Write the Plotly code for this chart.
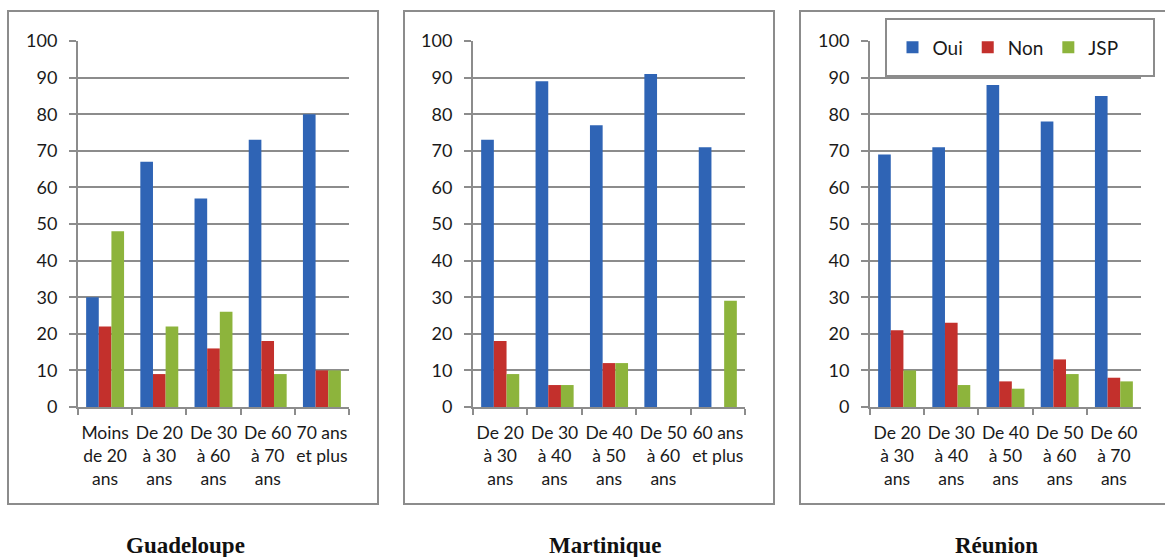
import plotly.graph_objects as go

# ---- data ----
cats_gua = ["Moins<br>de 20<br>ans", "De 20<br>à 30<br>ans", "De 30<br>à 60<br>ans", "De 60<br>à 70<br>ans", "70 ans<br>et plus"]
oui_gua = [30, 67, 57, 73, 80]
non_gua = [22, 9, 16, 18, 10]
jsp_gua = [48, 22, 26, 9, 10]

cats_mar = ["De 20<br>à 30<br>ans", "De 30<br>à 40<br>ans", "De 40<br>à 50<br>ans", "De 50<br>à 60<br>ans", "60 ans<br>et plus"]
oui_mar = [73, 89, 77, 91, 71]
non_mar = [18, 6, 12, 0, 0]
jsp_mar = [9, 6, 12, 0, 29]

cats_reu = ["De 20<br>à 30<br>ans", "De 30<br>à 40<br>ans", "De 40<br>à 50<br>ans", "De 50<br>à 60<br>ans", "De 60<br>à 70<br>ans"]
oui_reu = [69, 71, 88, 78, 85]
non_reu = [21, 23, 7, 13, 8]
jsp_reu = [10, 6, 5, 9, 7]

titles = ["Guadeloupe", "Martinique", "Réunion"]
series_names = ["Oui", "Non", "JSP"]
y_ticks = [0, 10, 20, 30, 40, 50, 60, 70, 80, 90, 100]

# ---- style ----
W, H = 1165, 557
colors = ["#2F64B5", "#C3302C", "#8DB43C"]
grid_col = "#8c8c8c"
font_fam = "Lato, 'Open Sans', sans-serif"

panels = [
    (cats_gua, [oui_gua, non_gua, jsp_gua]),
    (cats_mar, [oui_mar, non_mar, jsp_mar]),
    (cats_reu, [oui_reu, non_reu, jsp_reu]),
]

def px_x(p):
    return p / W

def px_y(p):
    return 1 - p / H

plot_x = [(78, 349), (473, 745), (870, 1141)]
plot_y = (41, 407)
panel_box = [(8, 378), (404, 774), (800, 1168)]
panel_y = (11, 504)
title_x = [185, 605, 996]

fig = go.Figure()
for i, (cats, vals) in enumerate(panels):
    ax = "" if i == 0 else str(i + 1)
    for j, name in enumerate(series_names):
        fig.add_trace(go.Bar(
            x=cats, y=vals[j], name=name,
            marker=dict(color=colors[j], line=dict(width=0)),
            xaxis="x" + ax, yaxis="y" + ax,
            showlegend=(i == 2),
        ))
    fig.layout["xaxis" + ax] = dict(
        domain=[px_x(plot_x[i][0]), px_x(plot_x[i][1])],
        anchor="y" + ax, type="category", automargin=False, tickangle=0,
        showline=True, linecolor=grid_col, linewidth=2,
        ticks="outside", tickson="boundaries", ticklen=6, tickcolor=grid_col, tickwidth=2,
        tickfont=dict(family=font_fam, size=17.5, color="#1a1a1a"),
        ticklabelstandoff=9,
        showgrid=False, fixedrange=True,
    )
    fig.layout["yaxis" + ax] = dict(
        domain=[px_y(plot_y[1]), px_y(plot_y[0])],
        anchor="x" + ax, range=[0, 100], tickvals=y_ticks, automargin=False,
        showline=True, linecolor=grid_col, linewidth=2,
        ticks="outside", ticklen=7, tickcolor=grid_col, tickwidth=2,
        showgrid=True, gridcolor=grid_col, gridwidth=1.5,
        zeroline=False,
        tickfont=dict(family=font_fam, size=18, color="#1a1a1a"),
        ticklabelstandoff=8, fixedrange=True,
    )

shapes = []
for i in range(3):
    shapes.append(dict(type="rect", xref="paper", yref="paper",
                       x0=px_x(panel_box[i][0]), x1=px_x(panel_box[i][1]),
                       y0=px_y(panel_y[1]), y1=px_y(panel_y[0]),
                       line=dict(color=grid_col, width=2), layer="below"))
# legend box
shapes.append(dict(type="rect", xref="paper", yref="paper",
                   x0=px_x(886), x1=px_x(1154), y0=px_y(76), y1=px_y(19),
                   line=dict(color=grid_col, width=2), fillcolor="white", layer="above"))

annotations = []
for i, t in enumerate(titles):
    annotations.append(dict(text="<b>" + t + "</b>", x=px_x(title_x[i]), y=px_y(545),
                            xref="paper", yref="paper", xanchor="center", yanchor="middle",
                            showarrow=False,
                            font=dict(family="'Liberation Serif', 'DejaVu Serif', serif", size=23, color="#111")))

fig.update_layout(
    width=W, height=H, margin=dict(l=0, r=0, t=0, b=0),
    paper_bgcolor="white", plot_bgcolor="white",
    barmode="group", bargap=0.3, bargroupgap=0,
    showlegend=True,
    legend=dict(orientation="h", x=px_x(1008), y=px_y(47.5), xanchor="center", yanchor="middle",
                bgcolor="rgba(0,0,0,0)", borderwidth=0,
                font=dict(family=font_fam, size=19, color="#1a1a1a"),
                itemwidth=30, traceorder="normal"),
    shapes=shapes, annotations=annotations,
)

fig.write_html("out.html",
               config={"displayModeBar": False},
               post_script="document.body.style.margin='0';document.body.style.overflow='hidden';")
